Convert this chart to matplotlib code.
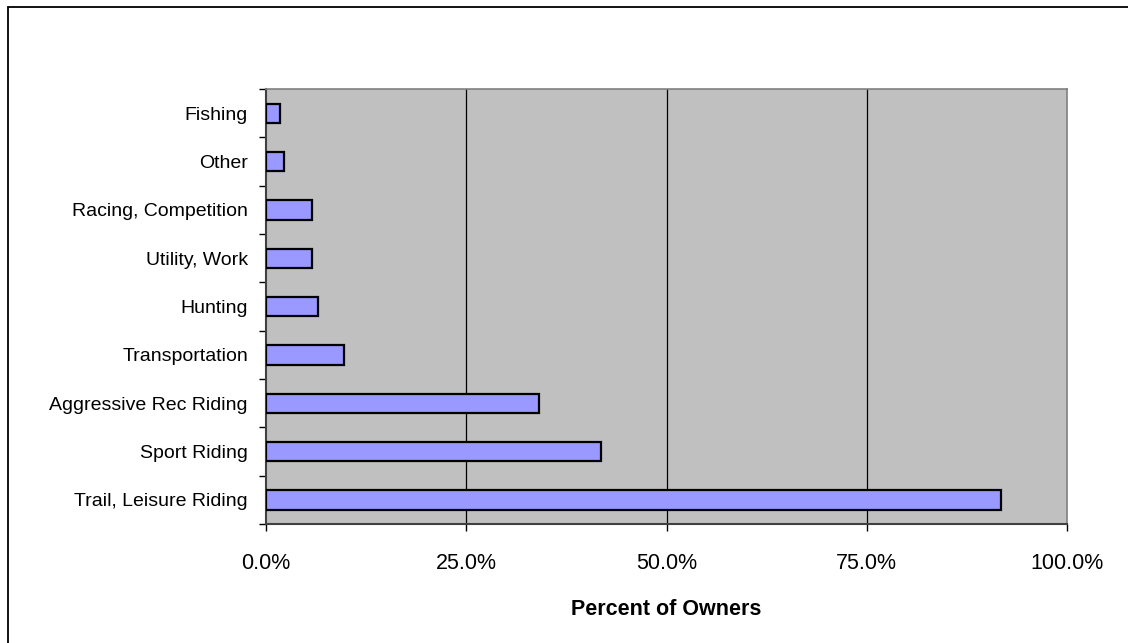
import matplotlib
matplotlib.use("Agg")
import matplotlib.pyplot as plt
from matplotlib.patches import Rectangle
from matplotlib.ticker import FuncFormatter

categories = [
    "Trail, Leisure Riding",
    "Sport Riding",
    "Aggressive Rec Riding",
    "Transportation",
    "Hunting",
    "Utility, Work",
    "Racing, Competition",
    "Other",
    "Fishing",
]
percent_owners = [91.8, 41.8, 34.1, 9.7, 6.5, 5.8, 5.8, 2.2, 1.75]
x_ticks = [0, 25, 50, 75, 100]

plt.rcParams["font.family"] = ["Liberation Sans", "DejaVu Sans"]

W, H = 1128, 643
fig = plt.figure(figsize=(W / 100, H / 100), dpi=100)

# outer chart frame (left and top edges visible)
fig.patches.append(Rectangle((8 / W, -0.05), 1.2, (H - 7) / H + 0.05,
                             transform=fig.transFigure, fill=False,
                             edgecolor="black", linewidth=1.3))

ax = fig.add_axes([266 / W, 1 - 524 / H, (1067 - 266) / W, (524 - 89) / H])
ax.set_facecolor("#C0C0C0")

ypos = list(range(len(categories)))
ax.barh(ypos, percent_owners, height=0.4, color="#9999FF",
        edgecolor="black", linewidth=1.6, zorder=3)

ax.set_xlim(0, 100)
ax.set_ylim(-0.5, len(categories) - 0.5)

ax.set_xticks(x_ticks)
ax.xaxis.set_major_formatter(FuncFormatter(lambda v, p: f"{v:.1f}%"))
ax.tick_params(axis="x", direction="out", length=5, width=1, pad=16,
               labelsize=15.5, color="black")

for v in x_ticks[1:-1]:
    ax.axvline(v, color="black", linewidth=0.9, zorder=1)

# category boundaries carry the y tick marks; labels sit at bar centres
ax.set_yticks([i - 0.5 for i in range(len(categories) + 1)])
ax.set_yticklabels([])
ax.set_yticks(ypos, minor=True)
ax.set_yticklabels(categories, minor=True)
ax.tick_params(axis="y", which="major", direction="out", length=5, width=1)
ax.tick_params(axis="y", which="minor", length=0, pad=13, labelsize=14)

for side in ["top", "right"]:
    ax.spines[side].set_color("#808080")
    ax.spines[side].set_linewidth(1.2)
ax.spines["left"].set_color("#404040")
ax.spines["left"].set_linewidth(1.5)
ax.spines["bottom"].set_color("#404040")
ax.spines["bottom"].set_linewidth(1.5)

ax.set_xlabel("Percent of Owners", fontsize=15.5, fontweight="bold",
              labelpad=18)

fig.savefig("out.png", dpi=100)
